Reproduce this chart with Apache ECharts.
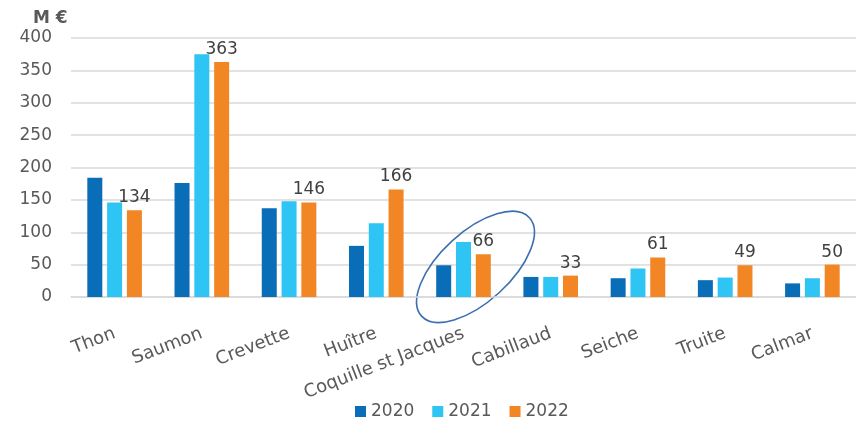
<!DOCTYPE html>
<html>
<head>
<meta charset="utf-8">
<script src="https://cdn.jsdelivr.net/npm/echarts@6/dist/echarts.min.js"></script>
<style>
  html, body { margin: 0; padding: 0; background: #fff; }
  #chart { width: 856px; height: 424px; }
</style>
</head>
<body>
<div id="chart"></div>
<script>
// Seafood species and yearly values (M €)
const species = ['Thon', 'Saumon', 'Crevette', 'Huître', 'Coquille st Jacques', 'Cabillaud', 'Seiche', 'Truite', 'Calmar'];
const values2020 = [184, 176, 137, 79, 49, 31, 29, 26, 21];
const values2021 = [146, 375, 148, 114, 85, 31, 44, 30, 29];
const values2022 = [134, 363, 146, 166, 66, 33, 61, 49, 50];
const yTicks = [0, 50, 100, 150, 200, 250, 300, 350, 400];
const highlighted = 'Coquille st Jacques';

const FONT = 'DejaVu Sans';
const chart = echarts.init(document.getElementById('chart'), null, { renderer: 'canvas' });

const barCommon = { type: 'bar', barWidth: 15, barGap: '32%' };

chart.setOption({
  animation: false,
  textStyle: { fontFamily: FONT },
  title: {
    text: 'M €', left: 28, top: 5,
    textStyle: { fontFamily: FONT, fontSize: 17, fontWeight: 'bold', color: '#595959' }
  },
  grid: { left: 71, top: 38, width: 792, height: 259, containLabel: false },
  legend: {
    top: 398, left: 350, itemWidth: 11, itemHeight: 11, itemGap: 18,
    icon: 'rect',
    textStyle: { fontFamily: FONT, fontSize: 17, color: '#595959' },
    data: ['2020', '2021', '2022']
  },
  xAxis: {
    type: 'category', data: species,
    axisLine: { lineStyle: { color: '#d9d9d9', width: 1.5 } },
    axisTick: { show: false },
    axisLabel: { rotate: 21, interval: 0, margin: 36, fontFamily: FONT, fontSize: 18, color: '#595959' }
  },
  yAxis: {
    type: 'value', min: yTicks[0], max: yTicks[yTicks.length - 1], interval: 50,
    axisLine: { show: false }, axisTick: { show: false },
    splitLine: { lineStyle: { color: '#d9d9d9', width: 1.5 } },
    axisLabel: { margin: 19, fontFamily: FONT, fontSize: 17, color: '#595959' }
  },
  series: [
    Object.assign({ name: '2020', data: values2020, itemStyle: { color: '#0a6db7' } }, barCommon),
    Object.assign({ name: '2021', data: values2021, itemStyle: { color: '#2ec4f3' } }, barCommon),
    Object.assign({
      name: '2022', data: values2022, itemStyle: { color: '#f28524' },
      label: { show: true, position: 'top', distance: 4, fontFamily: FONT, fontSize: 17, color: '#404040' }
    }, barCommon)
  ]
});

// Ellipse drawn around the highlighted category group
const c = chart.convertToPixel({ xAxisIndex: 0, yAxisIndex: 0 }, [highlighted, 48]);
chart.setOption({
  graphic: [{
    type: 'ellipse',
    x: c[0] + 12, y: c[1] + 1,
    rotation: 0.74,
    shape: { cx: 0, cy: 0, rx: 73, ry: 35 },
    style: { fill: 'none', stroke: '#3c6fb0', lineWidth: 1.6 },
    silent: true
  }]
});
</script>
</body>
</html>
